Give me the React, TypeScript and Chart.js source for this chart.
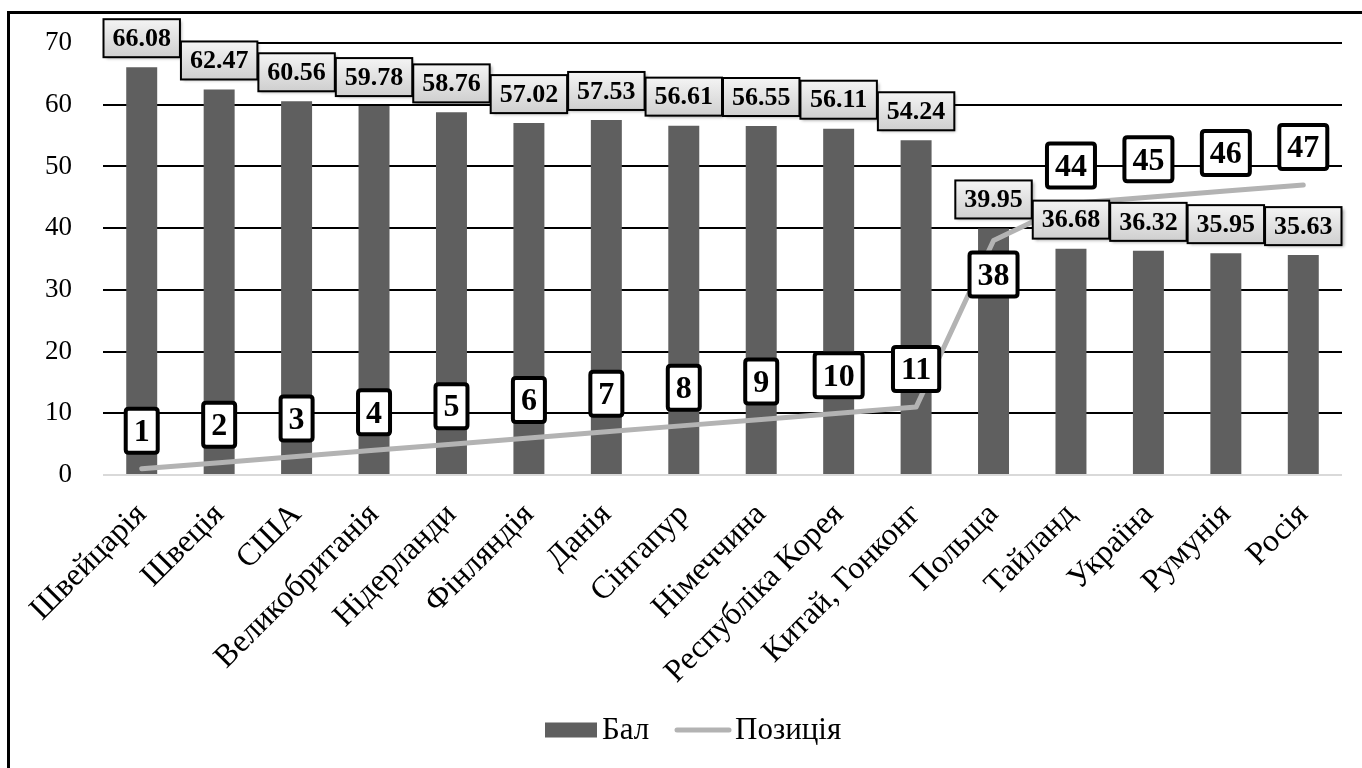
import React, { useEffect, useRef } from "react";
import { Chart, registerables } from "chart.js";

Chart.register(...registerables);

const categories = [
  "Швейцарія", "Швеція", "США", "Великобританія", "Нідерланди", "Фінляндія",
  "Данія", "Сінгапур", "Німеччина", "Республіка Корея", "Китай, Гонконг",
  "Польща", "Тайланд", "Україна", "Румунія", "Росія",
];
const scoreValues = [
  66.08, 62.47, 60.56, 59.78, 58.76, 57.02, 57.53, 56.61, 56.55, 56.11, 54.24,
  39.95, 36.68, 36.32, 35.95, 35.63,
];
const positionValues = [1, 2, 3, 4, 5, 6, 7, 8, 9, 10, 11, 38, 44, 45, 46, 47];
const seriesNames = ["Бал", "Позиція"];
const yTicks = { min: 0, max: 70, step: 10 };

const FONT = '"Liberation Serif", "Times New Roman", serif';
const BAR_COLOR = "#5f5f5f";
const LINE_COLOR = "#b3b3b3";
const CW = 1352;
const CH = 754;

function roundRect(ctx: CanvasRenderingContext2D, x: number, y: number, w: number, h: number, r: number) {
  ctx.beginPath();
  ctx.moveTo(x + r, y);
  ctx.lineTo(x + w - r, y);
  ctx.quadraticCurveTo(x + w, y, x + w, y + r);
  ctx.lineTo(x + w, y + h - r);
  ctx.quadraticCurveTo(x + w, y + h, x + w - r, y + h);
  ctx.lineTo(x + r, y + h);
  ctx.quadraticCurveTo(x, y + h, x, y + h - r);
  ctx.lineTo(x, y + r);
  ctx.quadraticCurveTo(x, y, x + r, y);
  ctx.closePath();
}

const labelPlugin = {
  id: "boxLabels",
  afterDatasetsDraw(chart: any) {
    const ctx: CanvasRenderingContext2D = chart.ctx;
    const xScale = chart.scales.x;
    const catW = xScale.width / categories.length;
    const barMeta = chart.getDatasetMeta(1);
    ctx.save();
    barMeta.data.forEach((el: any, i: number) => {
      const w = catW - 1;
      const h = 38;
      const cx = el.x;
      const cy = el.y - 29;
      const x = cx - w / 2;
      const y = cy - h / 2;
      ctx.save();
      ctx.shadowColor = "rgba(0,0,0,0.35)";
      ctx.shadowOffsetX = 2;
      ctx.shadowOffsetY = 2;
      ctx.shadowBlur = 3;
      const g = ctx.createLinearGradient(0, y, 0, y + h);
      g.addColorStop(0, "#f4f4f4");
      g.addColorStop(1, "#cfcfcf");
      ctx.fillStyle = g;
      ctx.fillRect(x, y, w, h);
      ctx.restore();
      ctx.lineWidth = 2;
      ctx.strokeStyle = "#000";
      ctx.strokeRect(x, y, w, h);
      ctx.fillStyle = "#000";
      ctx.font = `bold 26px ${FONT}`;
      ctx.textAlign = "center";
      ctx.textBaseline = "middle";
      ctx.fillText(scoreValues[i].toFixed(2), cx, cy + 1);
    });
    const lineMeta = chart.getDatasetMeta(0);
    lineMeta.data.forEach((el: any, i: number) => {
      const txt = String(positionValues[i]);
      ctx.font = `bold 32px ${FONT}`;
      const tw = ctx.measureText(txt).width;
      const w = tw + 20;
      const h = 48;
      const cx = el.x;
      const cy = i === 11 ? el.y + 34 : el.y - 38;
      ctx.fillStyle = "#fff";
      roundRect(ctx, cx - w / 2 + 2, cy - h / 2 + 2, w - 4, h - 4, 3);
      ctx.fill();
      ctx.lineWidth = 4;
      ctx.strokeStyle = "#000";
      ctx.stroke();
      ctx.fillStyle = "#000";
      ctx.textAlign = "center";
      ctx.textBaseline = "middle";
      ctx.fillText(txt, cx, cy + 2);
    });
    ctx.restore();
  },
  afterDraw(chart: any) {
    const ctx: CanvasRenderingContext2D = chart.ctx;
    ctx.save();
    const cy = 716;
    ctx.fillStyle = BAR_COLOR;
    ctx.fillRect(535, cy - 7.5, 52, 15);
    ctx.font = `31px ${FONT}`;
    ctx.fillStyle = "#000";
    ctx.textAlign = "left";
    ctx.textBaseline = "middle";
    ctx.fillText(seriesNames[0], 592, cy + 1);
    ctx.strokeStyle = LINE_COLOR;
    ctx.lineWidth = 5;
    ctx.lineCap = "round";
    ctx.beginPath();
    ctx.moveTo(667, cy);
    ctx.lineTo(719, cy);
    ctx.stroke();
    ctx.fillText(seriesNames[1], 725, cy + 1);
    ctx.restore();
  },
};

export default function App() {
  const ref = useRef<HTMLCanvasElement>(null);
  useEffect(() => {
    let chart: Chart | null = null;
    let cancelled = false;
    const fonts = (document as any).fonts;
    Promise.all([
      fonts.load('27px "Liberation Serif"', "Позиція 0"),
      fonts.load('bold 27px "Liberation Serif"', "0123"),
    ])
      .catch(() => null)
      .then(() => {
        if (cancelled || !ref.current) return;
        chart = new Chart(ref.current, {
          type: "bar",
          data: {
            labels: categories,
            datasets: [
              {
                type: "line",
                label: seriesNames[1],
                data: positionValues,
                borderColor: LINE_COLOR,
                backgroundColor: LINE_COLOR,
                borderWidth: 5,
                borderCapStyle: "round",
                borderJoinStyle: "round",
                pointRadius: 0,
                tension: 0,
                order: 0,
              } as any,
              {
                type: "bar",
                label: seriesNames[0],
                data: scoreValues,
                backgroundColor: BAR_COLOR,
                categoryPercentage: 1,
                barPercentage: 0.4,
                order: 1,
              },
            ],
          },
          options: {
            responsive: false,
            animation: false,
            layout: { padding: { top: 29, right: 20, left: 0, bottom: 0 } },
            plugins: {
              legend: { display: false },
              tooltip: { enabled: false },
            },
            scales: {
              x: {
                grid: { display: false },
                border: { display: false },
                ticks: {
                  color: "#000",
                  font: { family: FONT, size: 32 },
                  minRotation: 45,
                  maxRotation: 45,
                  padding: 13,
                  autoSkip: false,
                },
                afterFit: (s: any) => {
                  s.height = CH - 461;
                },
              },
              y: {
                min: yTicks.min,
                max: yTicks.max,
                border: { display: false },
                grid: {
                  drawTicks: false,
                  color: (c: any) => (c.tick && c.tick.value === 0 ? "#d9d9d9" : "#000"),
                  lineWidth: 2,
                },
                ticks: {
                  stepSize: yTicks.step,
                  color: "#000",
                  font: { family: FONT, size: 27 },
                  padding: 31,
                },
                afterFit: (s: any) => {
                  s.width = 93;
                  s.paddingTop = 0;
                  s.paddingBottom = 0;
                },
              },
            },
          },
          plugins: [labelPlugin],
        });
      });
    return () => {
      cancelled = true;
      if (chart) chart.destroy();
    };
  }, []);
  return (
    <div
      style={{
        position: "fixed",
        left: 7,
        top: 11,
        width: 1362 - 7,
        height: 768 - 11,
        boxSizing: "border-box",
        borderLeft: "3px solid #000",
        borderTop: "3px solid #000",
        overflow: "hidden",
        background: "#fff",
      }}
    >
      <canvas ref={ref} width={CW} height={CH} style={{ display: "block" }} />
    </div>
  );
}
